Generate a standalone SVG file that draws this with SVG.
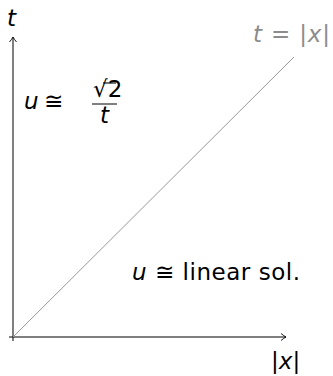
<svg xmlns="http://www.w3.org/2000/svg" width="333" height="376" viewBox="0 0 333 376">
<style>
text{font-family:"DejaVu Sans","Liberation Sans",sans-serif;font-size:23px;fill:#000}
.it{font-style:italic}
.gray{fill:#8c8c8c}
.axis{stroke:#000;stroke-width:1;fill:none}
</style>
<defs>
<marker id="arr" markerWidth="10" markerHeight="10" refX="7" refY="5" orient="auto" markerUnits="userSpaceOnUse">
<path d="M2,1.5 Q5,4 7,5 Q5,6 2,8.5" fill="none" stroke="#000" stroke-width="0.9"/>
</marker>
</defs>
<g id="connectors">
<line class="axis" x1="13" y1="341" x2="13" y2="37" marker-end="url(#arr)"/>
<line class="axis" x1="9" y1="337" x2="286" y2="337" marker-end="url(#arr)"/>
<line x1="13" y1="337" x2="294" y2="57" stroke="#999" stroke-width="1"/>
</g>
<g id="label-t"><text x="7" y="26" class="it">t</text></g>
<g id="label-diag"><text x="253" y="42" class="gray" textLength="77"><tspan class="it">t</tspan> = |<tspan class="it">x</tspan>|</text></g>
<g id="label-u-sqrt">
<text x="24" y="109" class="it">u</text>
<text x="44" y="109">≅</text>
<text x="93" y="97" font-size="16">√2</text>
<line x1="103" y1="83" x2="116" y2="83" stroke="#000" stroke-width="1.1"/>
<line x1="92" y1="104" x2="117" y2="104" stroke="#000" stroke-width="1"/>
<text x="100" y="123" font-size="15" class="it">t</text>
</g>
<g id="label-linear"><text x="132" y="280" textLength="168"><tspan class="it">u</tspan> ≅ linear sol.</text></g>
<g id="label-x"><text x="271" y="369" font-size="22">|<tspan class="it">x</tspan>|</text></g>
</svg>
